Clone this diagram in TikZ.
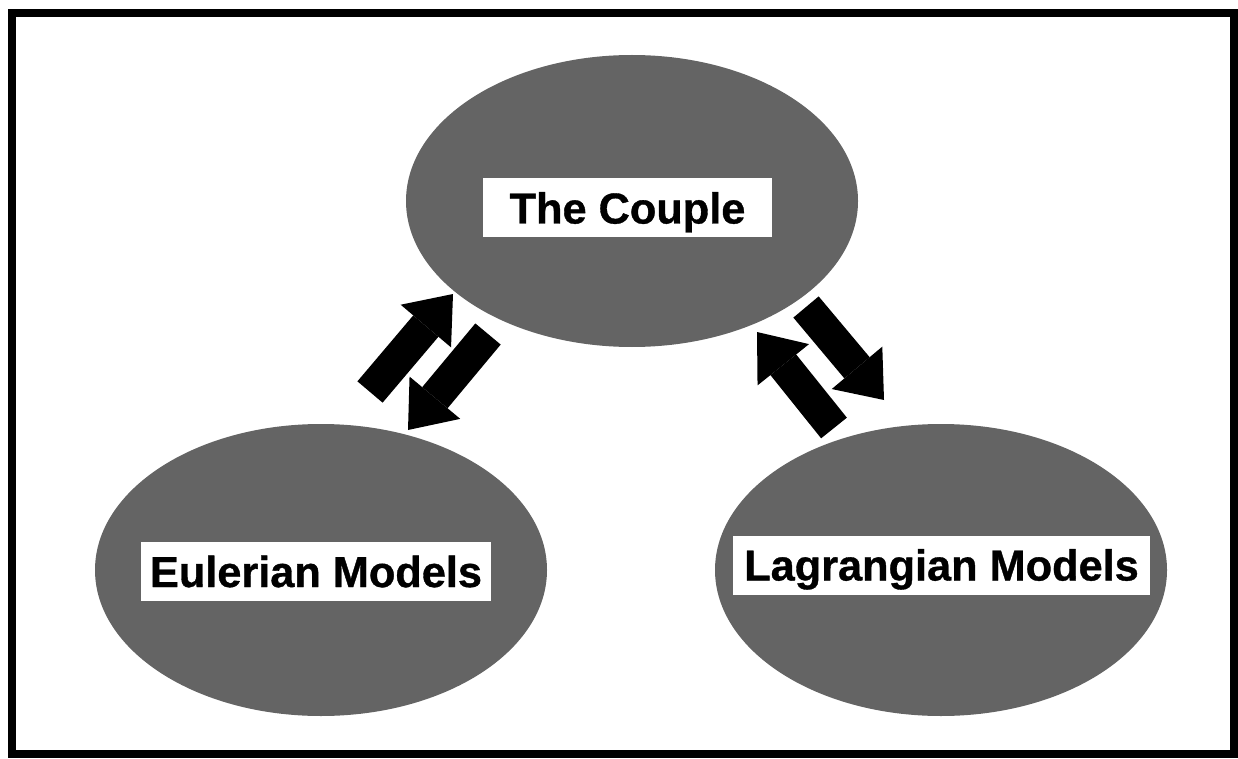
\documentclass[tikz,border=0pt]{standalone}
\usepackage{fontspec}
\setmainfont{Liberation Sans}
\newfontfamily\namefont[BoldFeatures={FakeBold=0.8}]{Liberation Sans}
\usepackage{tikz}
\usetikzlibrary{arrows.meta,shapes.geometric}
\definecolor{halftone}{RGB}{100,100,100}

\begin{document}
\begin{tikzpicture}[x=1pt,y=-1pt]

		\tikzset{
		    model/.style={ellipse, fill=halftone, inner sep=0pt, outer sep=0pt,
		        minimum width=452pt, minimum height=292pt},
		    modelname/.style={fill=white, inner xsep=9pt, inner ysep=14pt,
		        text height=31pt, text depth=0pt,
		        font=\namefont\fontsize{43.3}{50}\selectfont\bfseries},
		    fat arrow/.style={line width=33pt,
		        -{Triangle[length=42pt, width=66pt, line width=0pt]}}
		}

		\useasboundingbox (0,0) rectangle (1238,759);

		% frame
		\draw[line width=8pt] (12,13) rectangle (1234,754);

		% ellipses

		\node[model] (couple) at (632,201) {};
		\node[model] (euler) at (321,570) {};
		\node[model] (lagrange) at (941,570) {};

		% names in white boxes

		\node[modelname, inner xsep=27pt] (couple-name) at (627.5,208) {The Couple};
		\node[modelname] (euler-name) at (316,571.5) {Eulerian Models};
		\node[modelname, inner xsep=11pt] (lagrange-name) at (941.5,565) {Lagrangian Models};

		% ends of the arrows

		\coordinate (eu-out) at (370,392);
		\coordinate (eu-in) at (453,294);
		\coordinate (co-out-l) at (488,334);
		\coordinate (co-in-l) at (408,430);
		\coordinate (co-out-r) at (806,307);
		\coordinate (co-in-r) at (884,400);
		\coordinate (la-out) at (834,428);
		\coordinate (la-in) at (757,332);

		% arrows

		\draw[fat arrow] (eu-out) -- (eu-in);
		\draw[fat arrow] (co-out-l) -- (co-in-l);
		\draw[fat arrow] (co-out-r) -- (co-in-r);
		\draw[fat arrow] (la-out) -- (la-in);

\end{tikzpicture}
\end{document}
